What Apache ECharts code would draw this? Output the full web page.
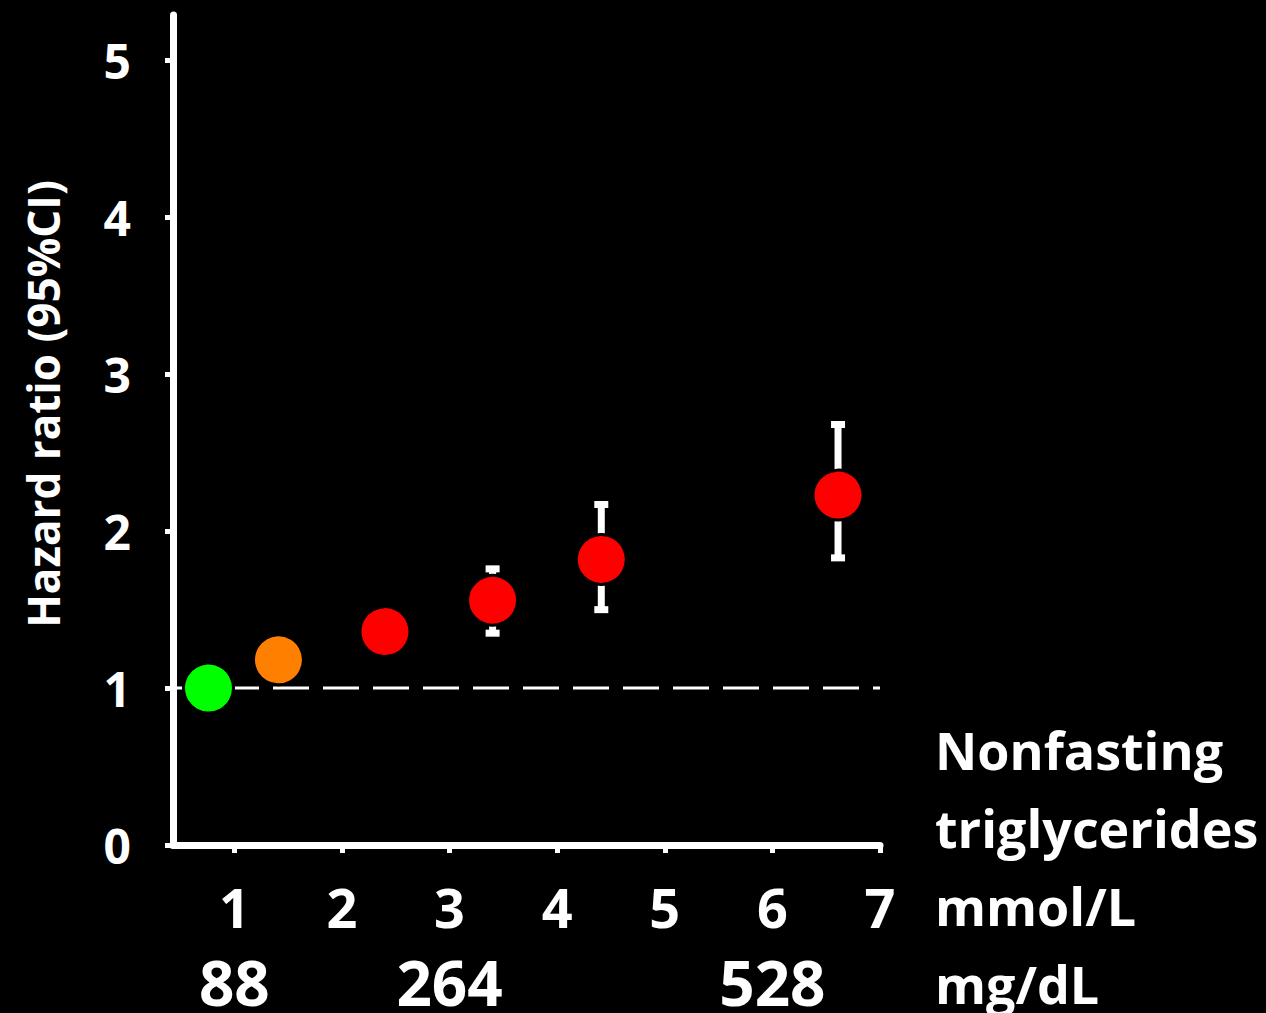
<!DOCTYPE html>
<html><head><meta charset="utf-8">
<script src="https://cdn.jsdelivr.net/npm/echarts@6/dist/echarts.min.js"></script>
<style>html,body{margin:0;padding:0;background:#000;}#c{width:1266px;height:1013px;}</style>
</head><body><div id="c"></div>
<script>
const xTicks = [1, 2, 3, 4, 5, 6, 7];
const mgdlTicks = [1, 3, 6];
const mgdlLabels = {1: '88', 3: '264', 6: '528'};
const yTicks = [0, 1, 2, 3, 4, 5];
const pointX = [0.76, 1.41, 2.40, 3.40, 4.41, 6.61];
const pointHR = [1.00, 1.18, 1.36, 1.56, 1.82, 2.23];
const ciLow = [null, null, null, 1.35, 1.50, 1.83];
const ciHigh = [null, null, null, 1.76, 2.17, 2.68];
const pointColors = ['#00ff00', '#ff8000', '#ff0000', '#ff0000', '#ff0000', '#ff0000'];
const refLineX = [0.43, 7];
const refLineY = [1, 1];
const yTitle = 'Hazard ratio (95%CI)';
const sideLines = ['Nonfasting', 'triglycerides', 'mmol/L', 'mg/dL'];

const FONT = '"Open Sans"';
const chart = echarts.init(document.getElementById('c'), null, {renderer: 'svg'});

const ciData = [];
pointX.forEach((x, i) => { if (ciLow[i] != null) ciData.push([x, ciLow[i], ciHigh[i]]); });

const graphics = sideLines.map((t, i) => ({
  type: 'text', left: 935, top: 723 + i * 78,
  style: {text: t, fill: '#fff', font: 'bold 52px ' + FONT}
}));
graphics.push({
  type: 'text', x: 43, y: 404, rotation: Math.PI / 2,
  style: {text: yTitle, fill: '#fff', font: 'bold 44px ' + FONT, align: 'center', verticalAlign: 'middle'}
});

chart.setOption({
  backgroundColor: '#000',
  animation: false,
  grid: {left: 173, right: 386, top: 15, bottom: 167},
  xAxis: [{
    type: 'value', min: 0.43, max: 7,
    splitLine: {show: false},
    axisLine: {lineStyle: {color: '#fff', width: 7}},
    axisTick: {show: true, customValues: xTicks, length: 8, lineStyle: {color: '#fff', width: 5}},
    axisLabel: {customValues: xTicks, color: '#fff', fontSize: 54, fontWeight: 'bold', fontFamily: FONT, margin: 35}
  }, {
    type: 'value', min: 0.43, max: 7, position: 'bottom', offset: 76,
    splitLine: {show: false}, axisLine: {show: false}, axisTick: {show: false},
    axisLabel: {customValues: mgdlTicks, color: '#fff', fontSize: 62, fontWeight: 'bold', fontFamily: FONT, margin: 30,
      formatter: v => mgdlLabels[Math.round(v)] || ''}
  }],
  yAxis: {
    type: 'value', min: 0, max: 5.29,
    splitLine: {show: false},
    axisLine: {lineStyle: {color: '#fff', width: 7}},
    axisTick: {show: true, customValues: yTicks, length: 8, lineStyle: {color: '#fff', width: 5}},
    axisLabel: {customValues: yTicks, color: '#fff', fontSize: 48, fontWeight: 'bold', fontFamily: FONT, margin: 42}
  },
  graphic: graphics,
  series: [{
    type: 'line', data: refLineX.map((x, i) => [x, refLineY[i]]), symbol: 'none', silent: true,
    lineStyle: {color: '#fff', width: 3, type: [36, 14]}, z: 1
  }, {
    type: 'custom', data: ciData, z: 2,
    renderItem: (params, api) => {
      const lo = api.coord([api.value(0), api.value(1)]);
      const hi = api.coord([api.value(0), api.value(2)]);
      const x = lo[0];
      const bw = 7, cw = 14, ch = 7;
      return {type: 'group', children: [
        {type: 'rect', shape: {x: x - bw / 2, y: hi[1], width: bw, height: lo[1] - hi[1]}, style: {fill: '#fff'}},
        {type: 'rect', shape: {x: x - cw / 2, y: hi[1] - ch / 2, width: cw, height: ch}, style: {fill: '#fff'}},
        {type: 'rect', shape: {x: x - cw / 2, y: lo[1] - ch / 2, width: cw, height: ch}, style: {fill: '#fff'}}
      ]};
    }
  }, {
    type: 'scatter', z: 3, symbolSize: 50,
    data: pointX.map((x, i) => ({value: [x, pointHR[i]], itemStyle: {color: pointColors[i], opacity: 1, borderColor: '#000', borderWidth: 3}}))
  }]
});
</script></body></html>
